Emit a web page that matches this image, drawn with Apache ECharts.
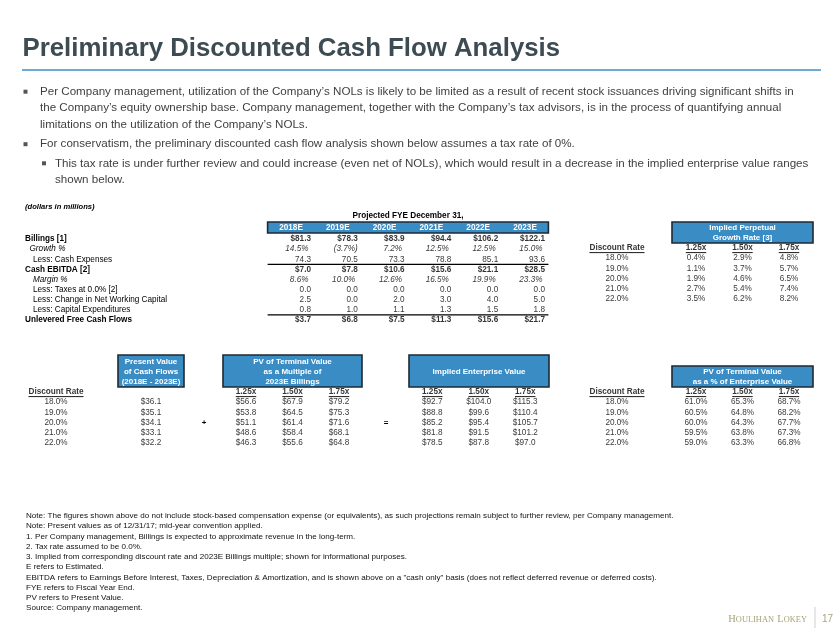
<!DOCTYPE html>
<html>
<head>
<meta charset="utf-8">
<script src="https://cdn.jsdelivr.net/npm/echarts@6/dist/echarts.min.js"></script>
<style>
	html,body{margin:0;padding:0;background:#fff;}
	#chart{width:840px;height:630px;}
</style>
</head>
<body>
<div id="chart"></div>
<script type="text/javascript">
	// ---- data ----
	var years = ["2018E","2019E","2020E","2021E","2022E","2023E"];
	var billings = [81.3,78.3,83.9,94.4,106.2,122.1];
	var growth = [14.5,-3.7,7.2,12.5,12.5,15.0];
	var cashExpenses = [74.3,70.5,73.3,78.8,85.1,93.6];
	var cashEbitda = [7.0,7.8,10.6,15.6,21.1,28.5];
	var margin = [8.6,10.0,12.6,16.5,19.9,23.3];
	var taxes = [0.0,0.0,0.0,0.0,0.0,0.0];
	var changeNwc = [2.5,0.0,2.0,3.0,4.0,5.0];
	var capex = [0.8,1.0,1.1,1.3,1.5,1.8];
	var ufcf = [3.7,6.8,7.5,11.3,15.6,21.7];

	var projLabels = ["Billings [1]","Growth %","Less: Cash Expenses","Cash EBITDA [2]","Margin %","Less: Taxes at 0.0% [2]","Less: Change in Net Working Capital","Less: Capital Expenditures","Unlevered Free Cash Flows"];
	var projStyles = ["b","g","n","b","m","n","n","n","b"];
	var projFormats = ["money","pct","num","money","pct","num","num","num","money"];
	var projValues = [billings,growth,cashExpenses,cashEbitda,margin,taxes,changeNwc,capex,ufcf];

	var discountRates = [18.0,19.0,20.0,21.0,22.0];
	var multiples = ["1.25x","1.50x","1.75x"];
	var perpetualGrowth = [[0.4,2.9,4.8],[1.1,3.7,5.7],[1.9,4.6,6.5],[2.7,5.4,7.4],[3.5,6.2,8.2]];
	var pvCashFlows = [36.1,35.1,34.1,33.1,32.2];
	var pvTerminal = [[56.6,67.9,79.2],[53.8,64.5,75.3],[51.1,61.4,71.6],[48.6,58.4,68.1],[46.3,55.6,64.8]];
	var enterpriseValue = [[92.7,104.0,115.3],[88.8,99.6,110.4],[85.2,95.4,105.7],[81.8,91.5,101.2],[78.5,87.8,97.0]];
	var tvPctEv = [[61.0,65.3,68.7],[60.5,64.8,68.2],[60.0,64.3,67.7],[59.5,63.8,67.3],[59.0,63.3,66.8]];

	var bullets = [
		["Per Company management, utilization of the Company\u2019s NOLs is likely to be limited as a result of recent stock issuances driving significant shifts in",
		 "the Company\u2019s equity ownership base. Company management, together with the Company\u2019s tax advisors, is in the process of quantifying annual",
		 "limitations on the utilization of the Company\u2019s NOLs."],
		["For conservatism, the preliminary discounted cash flow analysis shown below assumes a tax rate of 0%."]
	];
	var subBullet = ["This tax rate is under further review and could increase (even net of NOLs), which would result in a decrease in the implied enterprise value ranges",
		"shown below."];
	var footnotes = [
		"Note: The figures shown above do not include stock-based compensation expense (or equivalents), as such projections remain subject to further review, per Company management.",
		"Note: Present values as of 12/31/17; mid-year convention applied.",
		"1. Per Company management, Billings is expected to approximate revenue in the long-term.",
		"2. Tax rate assumed to be 0.0%.",
		"3. Implied from corresponding discount rate and 2023E Billings multiple; shown for informational purposes.",
		"E refers to Estimated.",
		"EBITDA refers to Earnings Before Interest, Taxes, Depreciation & Amortization, and is shown above on a \"cash only\" basis (does not reflect deferred revenue or deferred costs).",
		"FYE refers to Fiscal Year End.",
		"PV refers to Present Value.",
		"Source: Company management."
	];

	// ---- styles ----
	var FONT = '"Liberation Sans", Arial, sans-serif';
	var FS = 8.2;
	var BLUE = "#3a8cc5";
	var BOX_BORDER = "#1e2a33";

	function fmtMoney(v){ return "$" + v.toFixed(1); }
	function fmtPct(v){ return v < 0 ? "(" + Math.abs(v).toFixed(1) + "%)" : v.toFixed(1) + "%"; }
	function fmtNum(v){ return v.toFixed(1); }

	var grids = [], xAxes = [], yAxes = [], series = [], headerCells = [];

	function range(n){ var a=[]; for(var i=0;i<n;i++){a.push(i);} return a; }

	function addTable(set){
		var i = grids.length;
		var r = set.rect;
		grids.push({left:r[0],top:r[1],width:r[2],height:r[3]});
		xAxes.push(set.xAxis || {type:"category",gridIndex:i,data:set.cols,show:false});
		yAxes.push(set.yAxis || {type:"category",gridIndex:i,data:range(set.rows),inverse:true,show:false});
		xAxes[i].gridIndex = i; yAxes[i].gridIndex = i;
		series.push({
			type:"scatter",xAxisIndex:i,yAxisIndex:i,symbolSize:0,silent:true,animation:false,
			data:set.cells,
			label:{show:true,position:"inside",fontFamily:FONT,fontSize:FS,color:"#000"}
		});
		if(set.underline){ headerCells.push({grid:i,cols:set.cols,texts:set.headers}); }
		return i;
	}

	function cell(c,r,text,extra){
		var lab = {formatter:text};
		for(var k in extra){ lab[k] = extra[k]; }
		return {value:[c,r],label:lab};
	}

	// projected cash flow table
	var projCells = [];
	projValues.forEach(function(arr,r){
		arr.forEach(function(v,c){
			var f = projFormats[r], text, off = 20;
			if(f === "money"){ text = fmtMoney(v); }
			else if(f === "pct"){ text = fmtPct(v); if(v >= 0){ off = 17.5; } }
			else { text = fmtNum(v); }
			var ex = {align:"right",offset:[off,0]};
			if(projStyles[r] === "b"){ ex.fontWeight = "bold"; }
			if(f === "pct"){ ex.fontStyle = "italic"; }
			projCells.push(cell(c,r,text,ex));
		});
	});
	var projRect = [267.6,234,280.8,90.9];
	var projGrid = addTable({
		rect:projRect, cols:years, rows:9, cells:projCells,
		xAxis:{type:"category",data:years,position:"top",axisLine:{show:false},axisTick:{show:false},
			axisLabel:{interval:0,color:"#fff",fontWeight:"bold",fontFamily:FONT,fontSize:FS,margin:6.6,verticalAlign:"middle"}},
		yAxis:{type:"category",data:projLabels,inverse:true,axisLine:{show:false},axisTick:{show:false},
			axisLabel:{interval:0,align:"left",margin:projRect[0]-25,fontFamily:FONT,fontSize:FS,color:"#000",
				formatter:function(v,idx){ return "{" + projStyles[idx] + "|" + v + "}"; },
				rich:{
					b:{fontWeight:"bold",fontFamily:FONT,fontSize:FS,color:"#000"},
					g:{fontStyle:"italic",fontFamily:FONT,fontSize:FS,color:"#000",padding:[0,0,0,4.5]},
					m:{fontStyle:"italic",fontFamily:FONT,fontSize:FS,color:"#000",padding:[0,0,0,8]},
					n:{fontFamily:FONT,fontSize:FS,color:"#000",padding:[0,0,0,8]}
				}}}
	});

	// discount rate columns
	function rateCells(){
		var cs = [cell(0,0,"Discount Rate",{fontWeight:"bold"})];
		discountRates.forEach(function(v,r){ cs.push(cell(0,r+1,v.toFixed(1)+"%",{})); });
		return cs;
	}
	function matrixCells(m,fmt){
		var cs = [];
		multiples.forEach(function(t,c){ cs.push(cell(c,0,t,{fontWeight:"bold"})); });
		m.forEach(function(row,r){ row.forEach(function(v,c){ cs.push(cell(c,r+1,fmt(v),{})); }); });
		return cs;
	}
	var pgFmt = function(v){ return v.toFixed(1)+"%"; };

	var TR_TOP = 242.9, B_TOP = 386.9, TBL_H = 61.2, MW = 139.5;
	var trRate = addTable({rect:[587,TR_TOP,60,TBL_H],cols:["r"],rows:6,cells:rateCells(),underline:true,headers:["Discount Rate"]});
	var trPg = addTable({rect:[672.75,TR_TOP,MW,TBL_H],cols:multiples,rows:6,cells:matrixCells(perpetualGrowth,pgFmt),underline:true,headers:multiples});

	var pvCells = [];
	pvCashFlows.forEach(function(v,r){ pvCells.push(cell(0,r+1,fmtMoney(v),{})); });
	var bRate1 = addTable({rect:[26,B_TOP,60,TBL_H],cols:["r"],rows:6,cells:rateCells(),underline:true,headers:["Discount Rate"]});
	var bPv = addTable({rect:[118,B_TOP,66,TBL_H],cols:["pv"],rows:6,cells:pvCells});
	var bTv = addTable({rect:[222.75,B_TOP,MW,TBL_H],cols:multiples,rows:6,cells:matrixCells(pvTerminal,fmtMoney),underline:true,headers:multiples});
	var bEv = addTable({rect:[409,B_TOP,MW,TBL_H],cols:multiples,rows:6,cells:matrixCells(enterpriseValue,fmtMoney),underline:true,headers:multiples});
	var bRate2 = addTable({rect:[587,B_TOP,60,TBL_H],cols:["r"],rows:6,cells:rateCells(),underline:true,headers:["Discount Rate"]});
	var bPct = addTable({rect:[672.75,B_TOP,MW,TBL_H],cols:multiples,rows:6,cells:matrixCells(tvPctEv,pgFmt),underline:true,headers:multiples});

	var chart = echarts.init(document.getElementById("chart"));
	chart.setOption({
		animation:false,
		textStyle:{fontFamily:FONT},
		grid:grids, xAxis:xAxes, yAxis:yAxes, series:series
	});

	// ---- decorations ----
	var g = [];
	function txt(x,y,text,font,fill,align,extra){
		var st = {text:text,font:font,fill:fill,align:align||"left",verticalAlign:"middle"};
		for(var k in extra){ st[k] = extra[k]; }
		return {type:"text",x:x,y:y,z:10,style:st,silent:true};
	}
	function rule(x1,y1,x2,y2,color,w){
		return {type:"line",z:5,shape:{x1:x1,y1:y1,x2:x2,y2:y2},style:{stroke:color,lineWidth:w},silent:true};
	}
	function box(x,y,w,h,text,lh){
		g.push({type:"rect",z:-1,shape:{x:x,y:y,width:w,height:h},style:{fill:BLUE,stroke:BOX_BORDER,lineWidth:1.6},silent:true});
		g.push(txt(x+w/2,y+h/2+0.5,text,"bold 8px "+FONT,"#fff","center",{lineHeight:lh||10.2}));
	}

	// title
	g.push(txt(22.5,49,"Preliminary Discounted Cash Flow Analysis","bold 25.8px "+FONT,"#3d4b53"));
	g.push(rule(22,70,821,70,"#3b8fc8",1.5));

	// bullets
	var by = [91.7,108.2,124.4,144.2];
	var k = 0;
	bullets.forEach(function(lines){
		g.push({type:"rect",z:5,shape:{x:23.5,y:by[k]-2,width:4,height:4},style:{fill:"#555"},silent:true});
		lines.forEach(function(l){ g.push(txt(40,by[k],l,"11.6px "+FONT,"#3f3f3f")); k++; });
	});
	g.push({type:"rect",z:5,shape:{x:42,y:163.3-2,width:4,height:4},style:{fill:"#555"},silent:true});
	subBullet.forEach(function(l,i){ g.push(txt(55,163.3+i*16.5,l,"11.6px "+FONT,"#3f3f3f")); });

	// top-left table header
	g.push(txt(25,206.5,"(dollars in millions)","italic bold 7.6px "+FONT,"#000"));
	g.push(txt(projRect[0]+projRect[2]/2,216,"Projected FYE December 31,","bold 8.2px "+FONT,"#000","center"));
	g.push({type:"rect",z:-1,shape:{x:projRect[0],y:222,width:projRect[2],height:11},style:{fill:BLUE,stroke:BOX_BORDER,lineWidth:1.6},silent:true});

	// rules in projected table
	var py2 = chart.convertToPixel({gridIndex:projGrid},[0,2])[1], py3 = chart.convertToPixel({gridIndex:projGrid},[0,3])[1];
	var py7 = chart.convertToPixel({gridIndex:projGrid},[0,7])[1], py8 = chart.convertToPixel({gridIndex:projGrid},[0,8])[1];
	g.push(rule(projRect[0],(py2+py3)/2,projRect[0]+projRect[2],(py2+py3)/2,"#000",1.3));
	g.push(rule(projRect[0],(py7+py8)/2,projRect[0]+projRect[2],(py7+py8)/2,"#000",1.3));

	// blue header boxes
	box(672,222,141,21,"Implied Perpetual\nGrowth Rate [3]");
	box(118,355,66,32,"Present Value\nof Cash Flows\n(2018E - 2023E)");
	box(223,355,139,32,"PV of Terminal Value\nas a Multiple of\n2023E Billings");
	box(409,355,140,32,"Implied Enterprise Value");
	box(672,366,141,21,"PV of Terminal Value\nas a % of Enterprise Value");

	// operators
	var opY = chart.convertToPixel({gridIndex:bRate1},[0,3])[1];
	g.push(txt(204,opY,"+","bold 8px "+FONT,"#000","center"));
	g.push(txt(386,opY,"=","bold 8px "+FONT,"#000","center"));

	// underlines under column headers
	var ctx = document.createElement("canvas").getContext("2d");
	ctx.font = "bold " + FS + "px " + FONT;
	headerCells.forEach(function(h){
		h.texts.forEach(function(t,c){
			var p = chart.convertToPixel({gridIndex:h.grid},[c,0]);
			var w = ctx.measureText(t).width;
			g.push(rule(p[0]-w/2,p[1]+4.6,p[0]+w/2,p[1]+4.6,"#000",0.9));
		});
	});

	// footnotes
	footnotes.forEach(function(l,i){ g.push(txt(26,516+i*10.25,l,"8.1px "+FONT,"#111")); });

	// logo + page number
	g.push(txt(807,619.5,"{a|H}{b|OULIHAN} {a|L}{b|OKEY}",null,"#a7a47a","right",{
		rich:{a:{font:"10.5px \"Liberation Serif\", serif",fill:"#a7a47a"},b:{font:"8.4px \"Liberation Serif\", serif",fill:"#a7a47a"}}
	}));
	g.push(rule(815,607,815,628,"#cfcfcf",1));
	g.push(txt(827.5,619.5,"17","10px "+FONT,"#a7a47a","center"));

	chart.setOption({graphic:{elements:g}});
</script>
</body>
</html>
